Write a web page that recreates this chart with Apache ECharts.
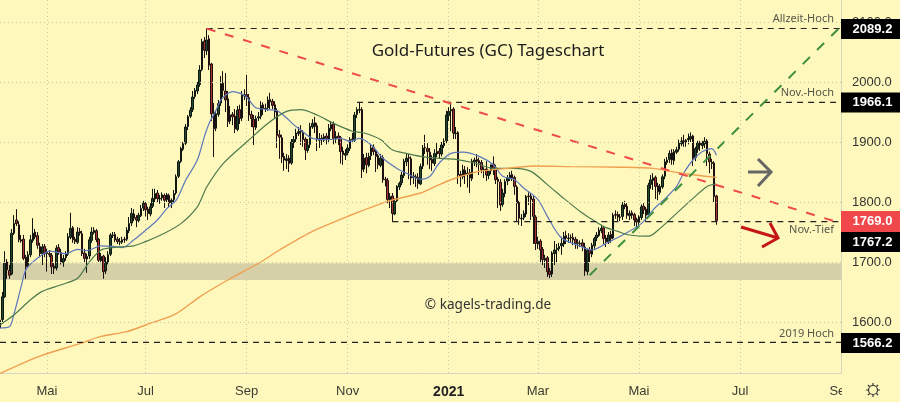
<!DOCTYPE html>
<html><head><meta charset="utf-8">
<style>html,body{margin:0;padding:0;background:#fff8bd}#c{width:900px;height:402px}</style>
<script src="https://cdn.jsdelivr.net/npm/echarts@6/dist/echarts.min.js"></script>
</head><body><div id="c"></div>
<script>
const barCount = 359;
const tickIndex = [20,62,105,148,191,229,272,315,358];
const tickLabels = ['Mai','Jul','Sep','Nov','2021','Mar','Mai','Jul','Sep'];
const priceTicks = [1600,1700,1800,1900,2000,2100];
const opens = [
1590,1604,1642,1700,1686,1680,1748,1770,1762,1735,
1738,1708,1694,1712,1736,1750,1744,1726,1714,1726,
1716,1714,1711,1693,1690,1724,1716,1699,1707,1713,
1741,1757,1738,1733,1751,1747,1715,1705,1710,1736,
1749,1752,1738,1702,1710,1685,1699,1713,1744,1746,
1738,1733,1733,1738,1738,1752,1765,1780,1774,1769,
1777,1790,1797,1788,1780,1793,1805,1815,1805,1807,
1811,1804,1811,1799,1804,1815,1843,1868,1888,1898,
1926,1943,1954,1976,1985,1996,2021,2068,2052,2072,
2030,1950,1923,1946,1965,1998,1985,1972,1935,1946,
1943,1921,1954,1940,1977,1979,1974,1946,1938,1924,
1940,1943,1962,1955,1957,1971,1968,1962,1952,1912,
1907,1876,1869,1873,1865,1899,1905,1914,1918,1916,
1905,1886,1896,1925,1932,1927,1903,1907,1903,1910,
1905,1922,1930,1905,1910,1907,1885,1878,1882,1889,
1905,1903,1946,1953,1954,1855,1874,1861,1877,1891,
1885,1877,1861,1874,1838,1836,1803,1810,1780,1802,
1825,1832,1844,1867,1874,1872,1841,1842,1841,1830,
1860,1891,1889,1883,1871,1864,1880,1885,1880,1894,
1902,1944,1952,1955,1914,1916,1846,1842,1853,1846,
1849,1839,1867,1871,1869,1866,1853,1855,1844,1852,
1863,1857,1838,1833,1796,1814,1835,1839,1846,1841,
1825,1799,1772,1774,1780,1810,1810,1805,1775,1730,
1735,1721,1703,1707,1685,1680,1714,1721,1722,1727,
1730,1744,1739,1741,1741,1738,1732,1730,1732,1725,
1684,1721,1713,1727,1740,1744,1752,1757,1740,1733,
1746,1740,1779,1779,1774,1776,1796,1793,1777,1782,
1779,1771,1766,1774,1793,1788,1779,1829,1836,1841,
1827,1816,1825,1843,1866,1871,1882,1869,1883,1888,
1897,1902,1900,1904,1905,1910,1874,1888,1899,1894,
1897,1902,1880,1866,1865,1810];
const highs = [
1608,1650,1718,1705,1695,1755,1778,1788,1768,1745,
1745,1712,1718,1745,1773,1755,1750,1732,1730,1730,
1722,1720,1715,1698,1728,1730,1722,1712,1718,1748,
1782,1760,1742,1758,1757,1752,1722,1714,1742,1758,
1758,1755,1740,1715,1712,1708,1718,1748,1750,1750,
1742,1740,1742,1742,1758,1775,1790,1788,1778,1782,
1795,1802,1800,1792,1798,1822,1822,1820,1812,1816,
1814,1815,1814,1806,1820,1846,1870,1892,1900,1930,
1945,1958,1985,1990,2000,2028,2072,2075,2089,2078,
2032,1965,1953,1970,2010,2018,2015,1985,1960,1950,
1955,1960,1962,1985,1988,2012,1980,1952,1945,1944,
1950,1968,1966,1964,1976,1982,1972,1968,1956,1920,
1912,1882,1880,1878,1905,1910,1922,1925,1928,1920,
1908,1905,1932,1938,1942,1932,1915,1912,1914,1915,
1930,1935,1934,1918,1916,1910,1892,1888,1896,1908,
1915,1950,1958,1966,1958,1880,1882,1882,1896,1896,
1888,1880,1880,1878,1842,1840,1815,1815,1806,1828,
1834,1850,1872,1880,1880,1876,1850,1846,1848,1864,
1895,1912,1898,1890,1878,1888,1900,1890,1900,1906,
1952,1958,1966,1958,1925,1918,1852,1862,1860,1858,
1855,1872,1874,1880,1874,1870,1858,1868,1852,1858,
1876,1862,1842,1838,1822,1838,1845,1850,1852,1844,
1828,1802,1780,1786,1812,1816,1815,1810,1778,1742,
1738,1725,1712,1710,1690,1718,1735,1730,1732,1742,
1750,1752,1748,1746,1748,1742,1738,1736,1738,1732,
1722,1725,1732,1742,1750,1758,1762,1760,1745,1750,
1752,1782,1786,1784,1780,1800,1802,1798,1786,1786,
1782,1774,1778,1796,1798,1792,1832,1845,1848,1844,
1832,1830,1846,1872,1875,1886,1888,1888,1892,1904,
1908,1912,1905,1914,1916,1912,1892,1902,1902,1902,
1908,1905,1884,1872,1868,1812];
const lows = [
1585,1600,1640,1672,1672,1678,1745,1760,1733,1732,
1703,1672,1690,1708,1732,1738,1722,1708,1695,1708,
1684,1708,1680,1680,1686,1712,1696,1692,1702,1710,
1738,1732,1730,1730,1744,1710,1700,1682,1705,1732,
1746,1733,1700,1698,1672,1680,1696,1710,1740,1733,
1730,1728,1730,1732,1735,1748,1760,1768,1758,1766,
1775,1785,1776,1770,1776,1790,1800,1800,1797,1802,
1790,1800,1792,1790,1800,1812,1840,1865,1885,1895,
1920,1940,1950,1972,1980,1992,2018,2040,2045,2020,
1935,1875,1918,1942,1960,1975,1950,1925,1930,1928,
1915,1918,1930,1935,1970,1960,1935,1925,1895,1920,
1935,1938,1945,1950,1952,1955,1955,1940,1890,1872,
1865,1852,1855,1850,1862,1890,1900,1910,1895,1892,
1870,1882,1890,1922,1915,1885,1890,1895,1900,1896,
1898,1918,1896,1898,1895,1864,1862,1870,1878,1885,
1898,1900,1940,1948,1840,1850,1848,1858,1870,1878,
1850,1855,1858,1832,1826,1798,1790,1767,1778,1800,
1820,1828,1840,1860,1838,1828,1830,1825,1822,1828,
1855,1880,1862,1855,1852,1860,1875,1872,1876,1890,
1898,1935,1918,1905,1905,1830,1825,1838,1830,1824,
1815,1835,1860,1858,1845,1848,1840,1835,1838,1846,
1845,1830,1790,1785,1792,1808,1828,1835,1835,1812,
1768,1762,1760,1770,1775,1795,1770,1730,1720,1722,
1698,1695,1690,1675,1673,1675,1695,1700,1718,1712,
1725,1730,1732,1732,1728,1722,1722,1725,1718,1677,
1678,1700,1708,1722,1735,1742,1748,1730,1725,1730,
1732,1738,1772,1768,1768,1770,1788,1772,1770,1772,
1760,1755,1762,1770,1780,1768,1775,1822,1820,1805,
1803,1812,1822,1838,1862,1865,1862,1862,1880,1884,
1893,1892,1892,1896,1900,1860,1868,1882,1885,1888,
1890,1860,1848,1855,1800,1762];
const closes = [
1603,1642,1698,1687,1678,1748,1764,1764,1737,1737,
1706,1692,1712,1737,1748,1742,1728,1714,1725,1714,
1714,1712,1692,1689,1723,1717,1700,1706,1714,1742,
1756,1737,1734,1750,1748,1714,1706,1709,1737,1750,
1753,1737,1703,1709,1684,1700,1712,1745,1745,1737,
1734,1734,1737,1737,1753,1764,1781,1773,1770,1778,
1789,1798,1787,1781,1792,1806,1814,1806,1806,1812,
1803,1812,1798,1803,1814,1842,1867,1889,1897,1925,
1942,1953,1975,1986,1995,2020,2067,2053,2070,2028,
1947,1922,1947,1964,1997,1986,1970,1934,1945,1942,
1922,1953,1939,1978,1978,1975,1945,1939,1925,1939,
1942,1961,1956,1956,1970,1967,1961,1950,1911,1908,
1875,1870,1872,1864,1900,1904,1915,1917,1917,1904,
1887,1895,1926,1931,1926,1904,1906,1904,1909,1906,
1923,1929,1906,1909,1906,1884,1879,1881,1890,1904,
1904,1945,1954,1954,1854,1873,1862,1876,1890,1884,
1876,1862,1873,1837,1837,1804,1809,1781,1801,1826,
1831,1845,1868,1873,1873,1840,1843,1840,1831,1859,
1890,1890,1884,1870,1865,1881,1884,1881,1895,1901,
1945,1951,1954,1915,1915,1845,1843,1854,1845,1848,
1840,1868,1870,1868,1865,1854,1854,1845,1851,1862,
1856,1837,1834,1795,1815,1834,1840,1845,1840,1826,
1798,1773,1773,1781,1809,1809,1804,1776,1731,1734,
1720,1704,1706,1684,1679,1715,1720,1723,1726,1731,
1743,1740,1740,1740,1737,1731,1731,1731,1726,1685,
1720,1714,1728,1739,1745,1753,1756,1739,1734,1745,
1739,1778,1778,1775,1775,1795,1792,1778,1781,1778,
1770,1767,1775,1792,1787,1778,1828,1837,1840,1826,
1817,1826,1842,1867,1870,1881,1870,1884,1887,1898,
1901,1901,1903,1906,1909,1873,1889,1898,1895,1898,
1901,1881,1867,1864,1809,1769];
const blueMA = [[0,1590],[4,1592],[6,1614],[9,1659],[11,1687],[14,1700],[18,1712],[21,1718],[28,1714],[33,1721],[37,1719],[43,1727],[48,1726],[52,1724],[57,1737],[62,1753],[67,1770],[71,1789],[75,1803],[79,1836],[84,1870],[87,1909],[89,1931],[92,1953],[94,1970],[97,1981],[99,1984],[104,1978],[106,1970],[109,1957],[114,1954],[118,1952],[122,1940],[125,1929],[128,1920],[133,1906],[140,1904],[145,1906],[149,1901],[153,1906],[158,1895],[163,1873],[169,1856],[173,1848],[179,1838],[183,1843],[187,1865],[192,1881],[197,1883],[204,1876],[210,1862],[214,1843],[219,1837],[223,1823],[229,1804],[233,1776],[239,1740],[246,1728],[252,1720],[258,1731],[265,1745],[273,1764],[278,1787],[284,1809],[288,1826],[291,1848],[295,1870],[299,1884],[303,1889],[305,1878]];
const greenMA = [[0,1595],[6,1612],[13,1637],[18,1651],[26,1662],[33,1673],[38,1700],[43,1720],[48,1724],[57,1727],[62,1734],[70,1748],[77,1764],[84,1792],[88,1825],[95,1864],[105,1900],[114,1931],[122,1951],[128,1954],[135,1945],[142,1931],[150,1918],[155,1915],[162,1904],[167,1887],[173,1881],[179,1876],[186,1873],[194,1871],[202,1865],[210,1856],[219,1856],[226,1851],[233,1829],[240,1806],[247,1784],[250,1776],[257,1759],[263,1751],[268,1745],[276,1743],[281,1756],[288,1781],[295,1806],[301,1826],[305,1830]];
const orangeMA = [[0,1514],[17,1543],[34,1564],[43,1576],[54,1584],[62,1595],[75,1614],[85,1642],[97,1670],[111,1700],[119,1720],[133,1751],[148,1776],[165,1801],[179,1815],[187,1829],[194,1840],[204,1851],[216,1856],[227,1860],[243,1859],[264,1858],[278,1856],[290,1848],[305,1841]];
const levelLines = [[[88,2089.2],[358,2089.2]],[[152,1966.1],[358,1966.1]],[[167,1767.2],[358,1767.2]],[[0,1566.2],[358,1566.2]]];
const resistanceLine = [[88,2089],[356,1767]];
const supportLine = [[251,1678],[357,2089]];
const zoneBand = [1670,1698];

const categories = Array.from({length:barCount},(_,i)=>String(i));
const candleData = closes.map((c,i)=>[opens[i],c,lows[i],highs[i]]);
const chart = echarts.init(document.getElementById('c'),null,{renderer:'canvas'});
const FONT = '"Liberation Sans",Arial,sans-serif';
const gridDot = {color:'#c8c6a6',type:[1,3],width:1};
function tag(y,h,fill,text){return {type:'group',z:20,children:[
  {type:'rect',z:20,shape:{x:841,y:y-h/2,width:59,height:h},style:{fill:fill}},
  {type:'text',z:21,x:872.5,y:y,style:{text:text,fill:'#fff',font:'bold 13px '+FONT,align:'center',verticalAlign:'middle'}}]};}
function note(x,y,t){return {type:'text',z:9,x:x,y:y,style:{text:t,fill:'#55554a',font:'11px "Noto Sans",'+FONT,align:'right',verticalAlign:'middle'}};}
function stroke(pts,color,w){return {type:'polyline',z:9,shape:{points:pts},style:{stroke:color,lineWidth:w,fill:null}};}
chart.setOption({
  animation:false,
  backgroundColor:'#fff8bd',
  grid:{left:0,top:0,width:841,height:373,containLabel:false},
  xAxis:{type:'category',data:categories,boundaryGap:false,
    axisLine:{lineStyle:{color:'#d6d4c2',width:1}},axisTick:{show:false},
    splitLine:{show:true,lineStyle:gridDot,interval:(i)=>tickIndex.includes(i)},
    axisLabel:{interval:(i)=>tickIndex.includes(i),margin:12,hideOverlap:false,showMaxLabel:true,
      formatter:(v,i)=>{const t=tickLabels[tickIndex.indexOf(+v)];return t==='2021'?'{b|2021}':t;},
      color:'#3b3b33',fontSize:13,fontFamily:FONT,rich:{b:{fontWeight:'bold',fontSize:14,color:'#222',fontFamily:FONT}}}},
  yAxis:{type:'value',position:'right',min:1515,max:2136.67,z:10,
    axisLine:{show:true,lineStyle:{color:'#d6d4c2'}},
    axisTick:{show:false,customValues:priceTicks},
    splitLine:{show:true,lineStyle:gridDot},
    axisLabel:{customValues:priceTicks,formatter:(v)=>v.toFixed(1),color:'#333',fontSize:13,margin:11,fontFamily:FONT}},
  graphic:{elements:[
    {type:'rect',z:5,shape:{x:842,y:0,width:58,height:402},style:{fill:'#fff8bd'}},
    {type:'text',z:9,x:488,y:51,style:{text:'Gold-Futures (GC) Tageschart',fill:'#1c1c1c',font:'17px "Noto Sans",'+FONT,align:'center',verticalAlign:'middle'}},
    {type:'text',z:9,x:488,y:305,style:{text:'© kagels-trading.de',fill:'#333',font:'13.6px "Noto Sans",'+FONT,align:'center',verticalAlign:'middle'}},
    note(834,19,'Allzeit-Hoch'),note(834,93,'Nov.-Hoch'),note(834,230,'Nov.-Tief'),note(834,334,'2019 Hoch'),
    tag(29,20,'#000','2089.2'),tag(102.5,20,'#000','1966.1'),tag(221.5,21,'#f0484a','1769.0'),tag(242,20,'#000','1767.2'),tag(343,20,'#000','1566.2'),
    stroke([[748,172],[771,172]],'#666',3),
    stroke([[758,159],[771,172],[758,186]],'#666',3),
    stroke([[741,227],[778,238]],'#c41616',3),
    stroke([[770,223],[778,238],[762,247]],'#c41616',3),
    {type:'circle',z:9,shape:{cx:873,cy:390,r:4.5},style:{stroke:'#333',lineWidth:1.2,fill:null}},
    stroke([[873,383],[873,385]],'#333',1.2),stroke([[873,395],[873,397]],'#333',1.2),
    stroke([[866,390],[868,390]],'#333',1.2),stroke([[878,390],[880,390]],'#333',1.2),
    stroke([[868,385],[869.5,386.5]],'#333',1.2),stroke([[876.5,393.5],[878,395]],'#333',1.2),
    stroke([[878,385],[876.5,386.5]],'#333',1.2),stroke([[869.5,393.5],[868,395]],'#333',1.2)
  ]},
  series:[
    {type:'candlestick',name:'GC',data:candleData,barWidth:2,z:3,
      itemStyle:{color:'#1d4a2c',color0:'#a83232',borderColor:'#10160f',borderColor0:'#1e1010',borderWidth:1},
      markArea:{silent:true,z:1,itemStyle:{color:'#d5d0a7'},data:[[{yAxis:zoneBand[1]},{yAxis:zoneBand[0]}]]}},
    {type:'line',name:'MA20',data:blueMA,smooth:0.3,showSymbol:false,z:4,lineStyle:{color:'#5d78bb',width:1.2}},
    {type:'line',name:'MA50',data:greenMA,smooth:0.3,showSymbol:false,z:4,lineStyle:{color:'#4d7a4d',width:1.2}},
    {type:'line',name:'MA200',data:orangeMA,smooth:0.3,showSymbol:false,z:4,lineStyle:{color:'#f0a050',width:1.4}},
    ...levelLines.map((l,i)=>({type:'line',name:'level'+i,data:l,showSymbol:false,z:5,lineStyle:{color:'#222',width:1.2,type:[6,5]}})),
    {type:'line',name:'resistance',data:resistanceLine,showSymbol:false,z:6,lineStyle:{color:'#ee4a4a',width:2,type:[9,10]}},
    {type:'line',name:'support',data:supportLine,showSymbol:false,z:6,lineStyle:{color:'#3f8f3f',width:2,type:[10,10]}}
  ]
});
</script></body></html>
